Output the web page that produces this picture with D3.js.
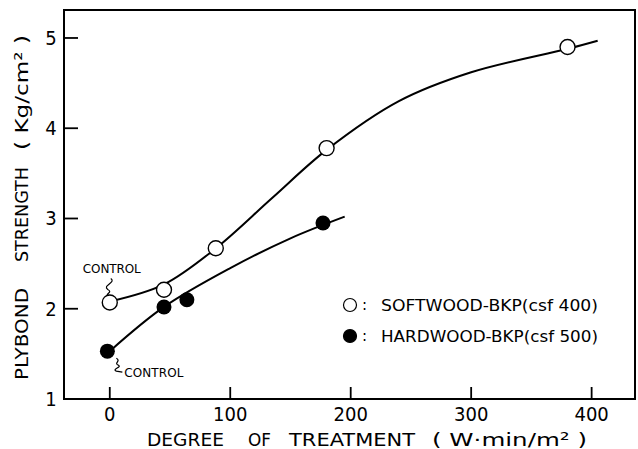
<!DOCTYPE html>
<html>
<head>
<meta charset="utf-8">
<script src="https://cdn.jsdelivr.net/npm/d3@7"></script>
<style>
  html, body { margin: 0; padding: 0; background: #fff; }
  svg { display: block; font-family: "DejaVu Sans", "Liberation Sans", sans-serif; }
</style>
</head>
<body>
<div id="chart"></div>
<script>
// measured points
const softX = [0, 45, 88, 180, 380];
const softY = [2.07, 2.21, 2.67, 3.78, 4.9];
const hardX = [-2, 45, 64, 177];
const hardY = [1.53, 2.02, 2.1, 2.95];
// hand-drawn fit curves
const softCurveX = [0, 45, 88, 135, 180, 240, 300, 380, 405];
const softCurveY = [2.08, 2.27, 2.67, 3.23, 3.76, 4.3, 4.62, 4.88, 4.97];
const hardCurveX = [0, 45, 100, 150, 195];
const hardCurveY = [1.53, 2.02, 2.45, 2.78, 3.02];
const xTicks = [0, 100, 200, 300, 400];
const yTicks = [1, 2, 3, 4, 5];
const legendLabels = ['SOFTWOOD-BKP(csf 400)', 'HARDWOOD-BKP(csf 500)'];
// axis titles split into words (the original has wide gaps between them)
const xTitleWords = ['DEGREE', 'OF', 'TREATMENT', '( W·min/m² )'];
const yTitleWords = ['PLYBOND', 'STRENGTH', '( Kg/cm² )'];

const width = 638, height = 449;
const margin = { top: 10, right: 3, bottom: 50, left: 64 };

const svg = d3.select('#chart').append('svg')
  .attr('width', width)
  .attr('height', height);

const x = d3.scaleLinear().domain([-38, 436]).range([margin.left, width - margin.right]);
const y = d3.scaleLinear().domain([1, 5.31]).range([height - margin.bottom, margin.top]);

// frame
svg.append('rect')
  .attr('x', margin.left).attr('y', margin.top)
  .attr('width', width - margin.right - margin.left)
  .attr('height', height - margin.bottom - margin.top)
  .attr('fill', 'none').attr('stroke', '#000').attr('stroke-width', 2);

// inward ticks
svg.selectAll('.xtick').data(xTicks).join('line')
  .attr('x1', d => x(d)).attr('x2', d => x(d))
  .attr('y1', y(1)).attr('y2', y(1) - 12)
  .attr('stroke', '#000').attr('stroke-width', 1.8);
svg.selectAll('.ytick').data(yTicks).join('line')
  .attr('x1', x.range()[0]).attr('x2', x.range()[0] + 14)
  .attr('y1', d => y(d)).attr('y2', d => y(d))
  .attr('stroke', '#000').attr('stroke-width', 1.8);

const tickFont = '"DejaVu Sans Condensed", "DejaVu Sans", sans-serif';
svg.selectAll('.xlab').data(xTicks).join('text')
  .attr('x', d => x(d)).attr('y', 421)
  .attr('text-anchor', 'middle').attr('font-size', 20)
  .style('font-family', tickFont).text(d => d);
svg.selectAll('.ylab').data(yTicks).join('text')
  .attr('x', 51).attr('y', d => y(d) + 7)
  .attr('text-anchor', 'middle').attr('font-size', 20)
  .style('font-family', tickFont).text(d => d);

// curves
const line = d3.line().x(d => x(d[0])).y(d => y(d[1])).curve(d3.curveCatmullRom.alpha(0.5));
svg.append('path')
  .datum(softCurveX.map((v, i) => [v, softCurveY[i]]))
  .attr('d', line).attr('fill', 'none').attr('stroke', '#000').attr('stroke-width', 2);
svg.append('path')
  .datum(hardCurveX.map((v, i) => [v, hardCurveY[i]]))
  .attr('d', line).attr('fill', 'none').attr('stroke', '#000').attr('stroke-width', 2);

// points
svg.selectAll('.soft').data(softX.map((v, i) => [v, softY[i]])).join('circle')
  .attr('class', 'soft')
  .attr('cx', d => x(d[0])).attr('cy', d => y(d[1])).attr('r', 7.5)
  .attr('fill', '#fff').attr('stroke', '#000').attr('stroke-width', 1.4);
svg.selectAll('.hard').data(hardX.map((v, i) => [v, hardY[i]])).join('circle')
  .attr('class', 'hard')
  .attr('cx', d => x(d[0])).attr('cy', d => y(d[1])).attr('r', 7.5)
  .attr('fill', '#000');

// CONTROL annotations
const sx0 = x(softX[0]), sy0 = y(softY[0]);
svg.append('text').attr('x', sx0 - 27).attr('y', sy0 - 29)
  .attr('font-size', 12).attr('textLength', 58).text('CONTROL');
svg.append('path')
  .attr('d', `M${sx0 + 1},${sy0 - 24} C${sx0 + 7},${sy0 - 20} ${sx0 - 8},${sy0 - 17} ${sx0 - 2},${sy0 - 13} C${sx0 + 4},${sy0 - 10} ${sx0 - 6},${sy0 - 8} ${sx0 - 1},${sy0 - 7}`)
  .attr('fill', 'none').attr('stroke', '#000').attr('stroke-width', 1.2);
const hx0 = x(hardX[0]), hy0 = y(hardY[0]);
svg.append('text').attr('x', hx0 + 17).attr('y', hy0 + 26)
  .attr('font-size', 12).attr('textLength', 59).text('CONTROL');
svg.append('path')
  .attr('d', `M${hx0 + 9},${hy0 + 7} C${hx0 + 14},${hy0 + 10} ${hx0 + 6},${hy0 + 12} ${hx0 + 11},${hy0 + 14} C${hx0 + 15},${hy0 + 16} ${hx0 + 4},${hy0 + 18} ${hx0 + 9},${hy0 + 20} L${hx0 + 15},${hy0 + 21}`)
  .attr('fill', 'none').attr('stroke', '#000').attr('stroke-width', 1.2);

// legend
const legend = svg.append('g');
legendLabels.forEach((lab, i) => {
  const ly = 305 + i * 31;
  legend.append('circle').attr('cx', 350).attr('cy', ly).attr('r', 6.5)
    .attr('fill', i ? '#000' : '#fff').attr('stroke', '#000').attr('stroke-width', 1.2);
  legend.append('text').attr('x', 362).attr('y', ly + 5).attr('font-size', 15).text(':');
  legend.append('text').attr('x', 381).attr('y', ly + 6).attr('font-size', 15)
    .attr('textLength', 217).attr('lengthAdjust', 'spacingAndGlyphs').text(lab);
});

// axis titles, word by word
const xTitlePos = [[147, 77], [248, 23], [289, 126], [432, 155]];
xTitleWords.forEach((w, i) => {
  svg.append('text')
    .attr('x', xTitlePos[i][0]).attr('y', 446).attr('font-size', 18)
    .attr('textLength', xTitlePos[i][1]).attr('lengthAdjust', 'spacingAndGlyphs')
    .text(w);
});
const yTitlePos = [[380, 92], [262, 95], [150, 115]];
yTitleWords.forEach((w, i) => {
  svg.append('text')
    .attr('transform', `translate(28,${yTitlePos[i][0]}) rotate(-90)`)
    .attr('font-size', 18)
    .attr('textLength', yTitlePos[i][1]).attr('lengthAdjust', 'spacingAndGlyphs')
    .text(w);
});
</script>
</body>
</html>
